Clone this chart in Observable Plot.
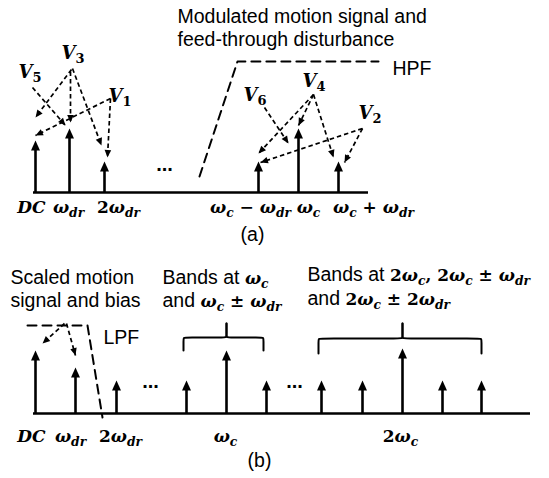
<!DOCTYPE html>
<html><head><meta charset="utf-8">
<script src="https://cdn.jsdelivr.net/npm/d3@7"></script>
<script src="https://cdn.jsdelivr.net/npm/@observablehq/plot@0.6"></script>
<style>
html,body{margin:0;padding:0;background:#fff;}
#chart svg{display:block;}
</style></head><body><div id="chart"></div>
<script>
// ---------------- Panel (a) ----------------
const stemPosA = [35, 69, 104, 258, 298, 338];
const stemAmpA = [52, 64, 31, 31, 64, 31];
const axisSpanA = [33, 368];
const tickLabelsA = ["$DC$", "$ω_{dr}$", "$2ω_{dr}$", "$ω_{c} − ω_{dr}$", "$ω_{c}$", "$ω_{c} + ω_{dr}$"];
const tickPosA = [31, 68, 118, 250, 308, 373];
const hpfX = [199, 237, 378];
const hpfY = [16, 131, 131];
const vNames = ["$V_{5}$", "$V_{3}$", "$V_{1}$", "$V_{6}$", "$V_{4}$", "$V_{2}$"];
const vX = [18, 61, 108, 243, 302, 358];
const vY = [115, 134, 91, 92, 106, 74];
// dashed arrows: start (x1,y1) -> end (x2,y2)
const arrX1A = [71, 70, 72, 110, 110, 32, 313, 313, 313, 362, 362, 264];
const arrY1A = [123, 121, 124, 94, 94, 105, 98, 98, 98, 64, 64, 85];
const arrX2A = [35, 70, 101, 35, 107, 65, 258, 298, 333, 260, 344, 288];
const arrY2A = [75, 70, 47, 57, 35, 67, 39, 67, 35, 30, 30, 49];
const titleA = ["Modulated motion signal and", "feed-through disturbance"];

// ---------------- Panel (b) ----------------
const stemPosB = [35, 75, 116, 186, 226, 266, 321, 362, 402, 442, 481];
const stemAmpB = [63, 46, 33, 33, 63, 33, 33, 33, 65, 33, 33];
const axisSpanB = [33, 530];
const tickLabelsB = ["$DC$", "$ω_{dr}$", "$2ω_{dr}$", "$ω_{c}$", "$2ω_{c}$"];
const tickPosB = [31, 70, 120, 225, 400];
const lpfX = [27, 87, 102];
const lpfY = [88, 88, -4];
const arrX1B = [64, 66];
const arrY1B = [90, 90];
const arrX2B = [42, 75];
const arrY2B = [70, 58];
const braceL = [183, 318], braceC = [226, 402], braceR = [263, 481];
const braceEnd = [63, 60], braceH = [76, 75], braceTip = [90, 90];
const notesB = ["Scaled motion", "signal and bias", "Bands at $ω_{c}$", "and $ω_{c} ± ω_{dr}$",
                "Bands at $2ω_{c}, 2ω_{c} ± ω_{dr}$", "and $2ω_{c} ± 2ω_{dr}$"];
const notesBX = [10, 10, 162, 162, 307, 307];
const notesBY = [130, 107, 130, 107, 133, 109];

// ---------------- helpers ----------------
const W = 549;
const SANS = "Liberation Sans, Arial, sans-serif";
const MATH = "DejaVu Serif, serif";
const stemHead = {draw(ctx) { ctx.moveTo(0, 0); ctx.lineTo(4.5, 10); ctx.lineTo(-4.5, 10); ctx.closePath(); }};
const dashHead = {draw(ctx) { ctx.moveTo(0, 0); ctx.lineTo(3.3, 7.5); ctx.lineTo(-3.3, 7.5); ctx.closePath(); }};

function stems(pos, amp) {
  const d = pos.map((x, i) => ({x, amp: amp[i]}));
  return [
    Plot.ruleX(d, {x: "x", y1: 0, y2: r => r.amp - 7, strokeWidth: 2.6, stroke: "#000"}),
    Plot.vector(d, {x: "x", y: "amp", length: 10, rotate: 0, anchor: "start", shape: stemHead, fill: "#000", stroke: "none"})
  ];
}
function dashedArrows(x1, y1, x2, y2) {
  const d = x1.map((_, i) => ({x1: x1[i], y1: y1[i], x2: x2[i], y2: y2[i],
    a: Math.atan2(x2[i] - x1[i], y2[i] - y1[i]) * 180 / Math.PI}));
  return [
    Plot.link(d, {x1: "x1", y1: "y1", x2: "x2", y2: "y2", stroke: "#000", strokeWidth: 1.7, strokeDasharray: "4.5,3"}),
    Plot.vector(d, {x: "x2", y: "y2", rotate: "a", length: 8, anchor: "start", shape: dashHead, fill: "#000", stroke: "none"})
  ];
}
function labels(texts, xs, ys, opts) {
  const d = texts.map((t, i) => ({t, x: xs[i], y: ys[i]}));
  return Plot.text(d, {text: "t", x: "x", y: "y", lineAnchor: "bottom", fill: "#000", fontFamily: SANS, ...opts});
}

function richify(svg) {
  d3.select(svg).selectAll("text").each(function () {
    const s = this.textContent;
    if (!s.includes("$")) return;
    const base = parseFloat(this.parentNode.getAttribute("font-size")) || 16;
    const parts = s.split("$");
    const mixed = parts.some((p, i) => i % 2 === 0 && p.trim() !== "");
    const msize = mixed ? 17 : base;
    const el = d3.select(this).text(null).style("white-space", "pre");
    let off = 0;
    const add = (t, math, sub) => {
      const italic = /[A-Za-z\u0370-\u03FF]/.test(t);
      const ts = el.append("tspan").text(t);
      const target = sub ? msize * 0.24 : 0;
      if (target !== off) { ts.attr("dy", target - off); off = target; }
      if (math) ts.attr("font-family", MATH).attr("font-weight", "bold")
                  .attr("font-style", italic ? "italic" : "normal")
                  .attr("font-size", msize * (sub ? 0.72 : 1));
    };
    parts.forEach((part, i) => {
      if (!part) return;
      if (i % 2 === 0) { add(part, false, false); return; }
      for (const m of part.matchAll(/_\{([^}]*)\}|[^_]+/g)) {
        const sub = m[1] !== undefined;
        const body = sub ? m[1] : m[0];
        for (const run of body.match(/[A-Za-z\u0370-\u03FF]+|[^A-Za-z\u0370-\u03FF]+/g) || []) add(run, true, sub);
      }
    });
  });
  return svg;
}

function panel(h, yDomain, marks) {
  return richify(Plot.plot({
    width: W, height: h, margin: 0,
    x: {domain: [0, W], range: [0, W], axis: null},
    y: {domain: yDomain, range: [h, 0], axis: null},
    style: {background: "#fff", color: "#000", overflow: "visible"},
    marks
  }));
}

// ---------------- Panel (a) ----------------
const hpf = hpfX.map((x, i) => ({x, y: hpfY[i]}));
const svgA = panel(250, [-58, 192], [
  Plot.ruleY([0], {x1: axisSpanA[0], x2: axisSpanA[1], strokeWidth: 2.6, stroke: "#000"}),
  ...stems(stemPosA, stemAmpA),
  Plot.line(hpf, {x: "x", y: "y", stroke: "#000", strokeWidth: 2, strokeDasharray: "9,6"}),
  ...dashedArrows(arrX1A, arrY1A, arrX2A, arrY2A),
  labels(tickLabelsA, tickPosA, tickPosA.map(() => -20), {fontSize: 17, textAnchor: "middle"}),
  labels(vNames, vX, vY, {fontSize: 18, textAnchor: "start"}),
  labels(titleA, [177, 177], [170, 147], {fontSize: 19.5, textAnchor: "start"}),
  labels(["HPF"], [392], [118], {fontSize: 19.5, textAnchor: "start"}),
  labels(["..."], [164], [22], {fontSize: 20, fontWeight: "bold", textAnchor: "middle"}),
  labels(["(a)"], [252], [-48], {fontSize: 19.5, textAnchor: "middle"})
]);

// ---------------- Panel (b) ----------------
const lpf = lpfX.map((x, i) => ({x, y: lpfY[i]}));
const braces = [];
braceL.forEach((L, i) => {
  const C = braceC[i], R = braceR[i], E = braceEnd[i], H = braceH[i], T = braceTip[i];
  [[L, 1], [R, -1]].forEach(([X, s], k) => {
    const id = i * 2 + k;
    [[X, E], [X, H - 3], [X, H], [X + 3 * s, H], [C - 3 * s, H], [C, H], [C, H + 3], [C, T]]
      .forEach(([x, y]) => braces.push({id, x, y}));
  });
});
const svgB = panel(228, [-65, 163], [
  Plot.ruleY([0], {x1: axisSpanB[0], x2: axisSpanB[1], strokeWidth: 2.6, stroke: "#000"}),
  ...stems(stemPosB, stemAmpB),
  Plot.line(lpf, {x: "x", y: "y", stroke: "#000", strokeWidth: 2, strokeDasharray: "9,6"}),
  ...dashedArrows(arrX1B, arrY1B, arrX2B, arrY2B),
  Plot.line(braces, {x: "x", y: "y", z: "id", curve: "basis", stroke: "#000", strokeWidth: 2}),
  labels(tickLabelsB, tickPosB, tickPosB.map(() => -28), {fontSize: 17, textAnchor: "middle"}),
  labels(notesB, notesBX, notesBY, {fontSize: 19.5, textAnchor: "start"}),
  labels(["LPF"], [103], [70], {fontSize: 19.5, textAnchor: "start"}),
  labels(["...", "..."], [150, 294], [26, 26], {fontSize: 20, fontWeight: "bold", textAnchor: "middle"}),
  labels(["(b)"], [259], [-53], {fontSize: 19.5, textAnchor: "middle"})
]);

document.getElementById("chart").append(svgA, svgB);
</script></body></html>
